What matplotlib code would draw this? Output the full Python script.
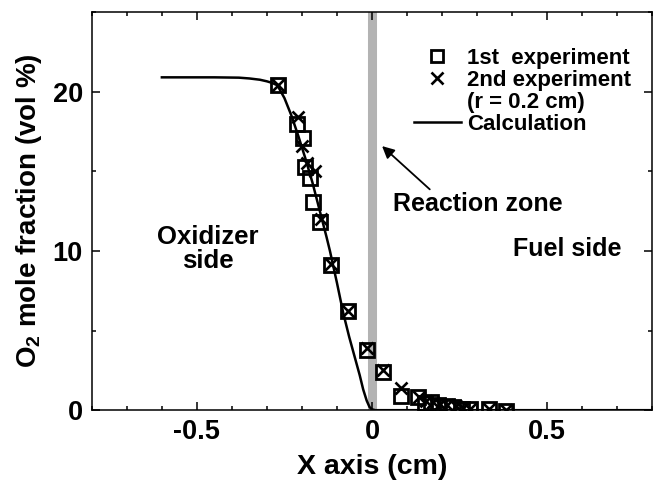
import numpy as np
import matplotlib
matplotlib.use("Agg")
import matplotlib.pyplot as plt
from matplotlib.lines import Line2D
from matplotlib.ticker import MultipleLocator

plt.rcParams['font.family'] = ['Liberation Sans', 'DejaVu Sans']
plt.rcParams['font.weight'] = 'bold'
plt.rcParams['mathtext.fontset'] = 'custom'
plt.rcParams['mathtext.rm'] = 'Liberation Sans:bold'
plt.rcParams['mathtext.it'] = 'Liberation Sans:bold'
plt.rcParams['mathtext.bf'] = 'Liberation Sans:bold'

# 1st experiment (squares)
x_exp1 = [-0.268, -0.214, -0.196, -0.19, -0.178, -0.168, -0.148, -0.117, -0.068,
          -0.015, 0.032, 0.082, 0.132, 0.151, 0.17, 0.19, 0.213, 0.232, 0.256,
          0.28, 0.333, 0.383]
y_exp1 = [20.4, 18.0, 17.1, 15.3, 14.6, 13.1, 11.8, 9.1, 6.2,
          3.8, 2.4, 0.9, 0.8, 0.45, 0.5, 0.35, 0.25, 0.2, 0.1,
          0.05, 0.05, -0.05]

# 2nd experiment (crosses), r = 0.2 cm
x_exp2 = [-0.268, -0.21, -0.2, -0.185, -0.163, -0.146, -0.117, -0.068, -0.015,
          0.032, 0.082, 0.135, 0.155, 0.175, 0.195, 0.215, 0.24, 0.26, 0.28,
          0.335, 0.383]
y_exp2 = [20.4, 18.4, 16.6, 15.5, 15.0, 12.0, 9.2, 6.2, 3.9,
          2.5, 1.4, 0.8, 0.6, 0.5, 0.4, 0.3, 0.25, 0.15, 0.1,
          0.1, 0.0]

# calculation
x_calc = [-0.6, -0.45, -0.38, -0.35, -0.32, -0.30, -0.285, -0.27, -0.25, -0.23,
          -0.21, -0.19, -0.17, -0.15, -0.13, -0.12, -0.10, -0.082, -0.065,
          -0.05, -0.035, -0.025, -0.015, -0.007, 0.0, 0.01, 0.8]
y_calc = [20.9, 20.9, 20.88, 20.83, 20.75, 20.65, 20.55, 20.4, 19.6, 18.5,
          17.2, 15.8, 14.3, 12.6, 10.9, 10.0, 8.0, 6.1, 4.6,
          3.4, 2.2, 1.3, 0.6, 0.2, 0.05, 0.0, 0.0]

fig = plt.figure(figsize=(6.56, 4.82), dpi=100)
ax = fig.add_axes([0.140, 0.149, 0.854, 0.826])

ax.axvline(0, color='#b3b3b3', lw=6.5, zorder=1)
ax.plot(x_calc, y_calc, color='black', lw=1.8, zorder=2)
ax.plot(x_exp1, y_exp1, ls='none', marker='s', ms=9.5, mfc='none', mec='black', mew=2.0, zorder=3)
ax.plot(x_exp2, y_exp2, ls='none', marker='x', ms=8, mec='black', mew=1.9, zorder=3)

ax.set_xlim(-0.8, 0.8)
ax.set_ylim(0, 25)
ax.xaxis.set_major_locator(MultipleLocator(0.5))
ax.xaxis.set_minor_locator(MultipleLocator(0.1))
ax.yaxis.set_major_locator(MultipleLocator(10))
ax.yaxis.set_minor_locator(MultipleLocator(5))
ax.set_xticks([-0.5, 0, 0.5])
ax.set_xticklabels(['-0.5', '0', '0.5'])
ax.set_yticks([0, 10, 20])
ax.set_yticklabels(['0', '10', '20'])
ax.tick_params(which='both', direction='in', top=True, right=True, width=1.1)
ax.tick_params(which='major', length=5.5, labelsize=19.5, pad=6.5)
ax.tick_params(which='minor', length=3.2)
for s in ax.spines.values():
    s.set_linewidth(1.1)

ax.set_xlabel('X axis (cm)', fontsize=20.5, fontweight='bold', labelpad=6)
ax.set_ylabel('O$_2$ mole fraction (vol %)', fontsize=20, fontweight='bold', labelpad=6)

ax.text(-0.47, 10.1, 'Oxidizer\nside', fontsize=18.5, fontweight='bold',
        ha='center', va='center', linespacing=1.0)
ax.text(0.059, 12.95, 'Reaction zone', fontsize=18, fontweight='bold', ha='left', va='center')
ax.text(0.402, 10.15, 'Fuel side', fontsize=18, fontweight='bold', ha='left', va='center')
ax.annotate('', xy=(0.023, 16.7), xytext=(0.171, 13.75),
            arrowprops=dict(arrowstyle='-|>', color='black', lw=1.3, mutation_scale=18))

handles = [Line2D([], [], ls='none', marker='s', ms=9, mfc='none', mec='black', mew=2.0),
           Line2D([], [], ls='none', marker='x', ms=8, mec='black', mew=1.9),
           Line2D([], [], ls='none'),
           Line2D([], [], color='black', lw=1.8)]
labels = ['1st  experiment', '2nd experiment', '(r = 0.2 cm)', 'Calculation']
ax.legend(handles, labels, loc='upper left', bbox_to_anchor=(0.575, 0.91),
          frameon=False, prop={'weight': 'bold', 'size': 16},
          handlelength=2.1, handletextpad=0.3, labelspacing=0.05,
          borderpad=0, borderaxespad=0)

fig.savefig('out.png', dpi=100)
